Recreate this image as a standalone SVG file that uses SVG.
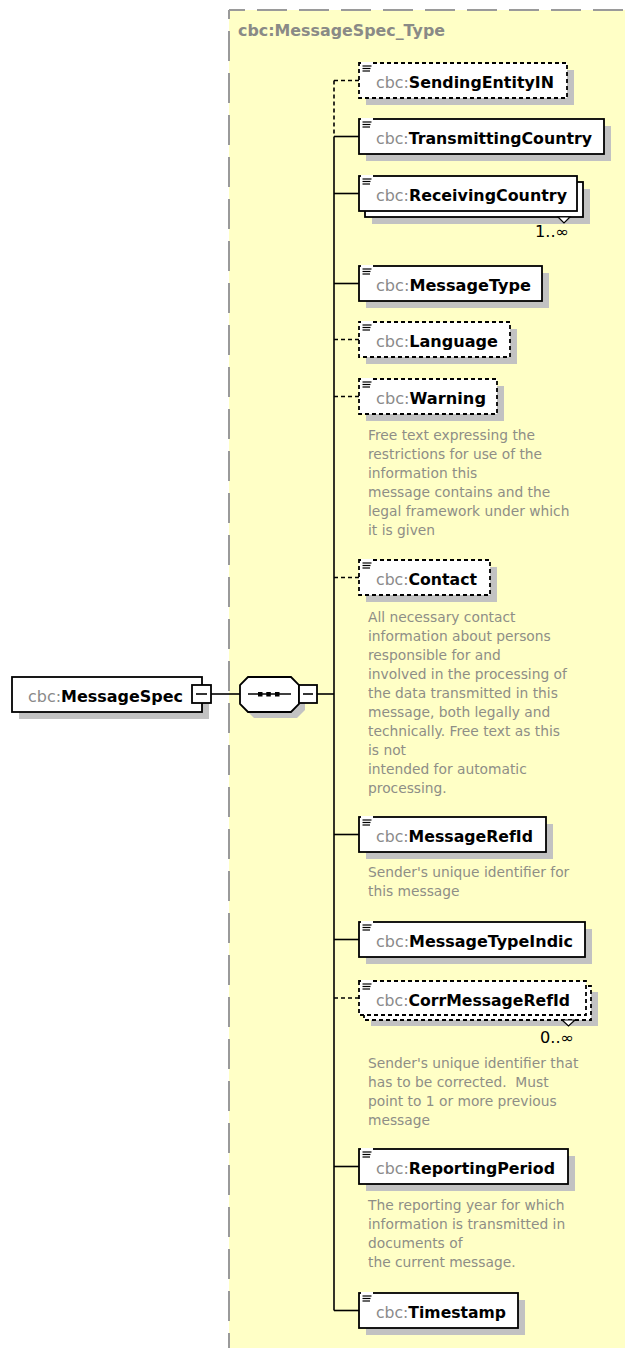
<svg xmlns="http://www.w3.org/2000/svg" xmlns:xlink="http://www.w3.org/1999/xlink" width="625" height="1348" viewBox="0 0 625 1348">
<style>
.panel{fill:#FFFFC6;stroke:none}
.pborder{stroke:#9a9a9a;stroke-width:2;stroke-dasharray:30 12;fill:none}
.title{font-family:"DejaVu Sans",sans-serif;font-size:15.7px;font-weight:bold;fill:#8a8a86}
.box{fill:#fff;stroke:#000;stroke-width:1.8}
.opt{stroke-dasharray:4 3}
.shadow{fill:#c2c2c2}
.lbl{font-family:"DejaVu Sans",sans-serif;font-size:15.7px}
.pre{fill:#8a8a8a;font-weight:normal}
.nm{fill:#000;font-weight:bold}
.ann{font-family:"DejaVu Sans",sans-serif;font-size:13.8px;fill:#8e8e86}
.occ{font-family:"DejaVu Sans",sans-serif;font-size:15px;fill:#000}
.conn{stroke:#000;stroke-width:1.6;fill:none}
.dash{stroke-dasharray:4 3}
.tri{fill:#fff;stroke:#000;stroke-width:1.2}
.ico line{stroke:#000;stroke-width:1.2}
</style>
<defs>
<g id="ico" class="ico">
<rect x="2" y="-1" width="12" height="10" fill="#fff"/>
<line x1="3.5" y1="3" x2="12.5" y2="3"/>
<line x1="3.5" y1="5.5" x2="11.5" y2="5.5"/>
<line x1="3.5" y1="8" x2="11" y2="8"/>
</g>
</defs>

<g id="panel">
<rect class="panel" x="229" y="10" width="400" height="1345"/>
<line class="pborder" x1="229" y1="10" x2="625" y2="10" stroke-dashoffset="14"/>
<line class="pborder" x1="229" y1="10" x2="229" y2="1348" stroke-dashoffset="21"/>
<text class="title" x="238" y="36" textLength="207" lengthAdjust="spacingAndGlyphs">cbc:MessageSpec_Type</text>
</g>

<g id="connectors">
<line class="conn" x1="211" y1="694" x2="240" y2="694"/>
<line class="conn" x1="317" y1="694" x2="334" y2="694"/>
<line class="conn dash" x1="334" y1="80.5" x2="334" y2="136.5"/>
<line class="conn" x1="334" y1="136.5" x2="334" y2="1310.5"/>
<line class="conn dash" x1="334" y1="80.5" x2="359" y2="80.5"/>
<line class="conn" x1="334" y1="136.5" x2="359" y2="136.5"/>
<line class="conn" x1="334" y1="193.5" x2="359" y2="193.5"/>
<line class="conn" x1="334" y1="283.5" x2="359" y2="283.5"/>
<line class="conn dash" x1="334" y1="339.5" x2="359" y2="339.5"/>
<line class="conn dash" x1="334" y1="396.5" x2="359" y2="396.5"/>
<line class="conn dash" x1="334" y1="577.5" x2="359" y2="577.5"/>
<line class="conn" x1="334" y1="834.5" x2="359" y2="834.5"/>
<line class="conn" x1="334" y1="939.5" x2="359" y2="939.5"/>
<line class="conn dash" x1="334" y1="998" x2="359" y2="998"/>
<line class="conn" x1="334" y1="1166.5" x2="359" y2="1166.5"/>
<line class="conn" x1="334" y1="1310.5" x2="359" y2="1310.5"/>
</g>

<g id="n-MessageSpec">
<rect class="shadow" x="19" y="684" width="190" height="35"/>
<rect class="box" x="12" y="677" width="190" height="35"/>
<text class="lbl" x="28" y="702" textLength="155" lengthAdjust="spacingAndGlyphs"><tspan class="pre">cbc:</tspan><tspan class="nm">MessageSpec</tspan></text>
<rect class="box" x="192" y="685" width="19" height="18" stroke-width="1.5"/>
<line class="conn" x1="196" y1="694" x2="207" y2="694" stroke-width="1.3"/>
</g>

<g id="n-sequence">
<polygon class="shadow" points="254,683 297,683 305,691 305,710 297,718 254,718 246,710 246,691"/>
<polygon class="box" points="248,677 291,677 299,685 299,704 291,712 248,712 240,704 240,685"/>
<line class="conn" x1="248" y1="694" x2="291" y2="694" stroke-width="1.4"/>
<rect x="258" y="692" width="4.5" height="4.5" fill="#000"/>
<rect x="266.3" y="692" width="4.5" height="4.5" fill="#000"/>
<rect x="275" y="692" width="4.5" height="4.5" fill="#000"/>
<rect class="box" x="299" y="685" width="18" height="18" stroke-width="1.5"/>
<line class="conn" x1="303" y1="694" x2="313" y2="694" stroke-width="1.3"/>
</g>

<g id="n-SendingEntityIN">
<rect class="shadow" x="366" y="70" width="208" height="35"/>
<rect class="box opt" x="359" y="63" width="208" height="35"/>
<use xlink:href="#ico" href="#ico" x="359" y="63"/>
<text class="lbl" x="376" y="88" textLength="178" lengthAdjust="spacingAndGlyphs"><tspan class="pre">cbc:</tspan><tspan class="nm">SendingEntityIN</tspan></text>
</g>

<g id="n-TransmittingCountry">
<rect class="shadow" x="366" y="126" width="245" height="35"/>
<rect class="box" x="359" y="119" width="245" height="35"/>
<use xlink:href="#ico" href="#ico" x="359" y="119"/>
<text class="lbl" x="376" y="144" textLength="216" lengthAdjust="spacingAndGlyphs"><tspan class="pre">cbc:</tspan><tspan class="nm">TransmittingCountry</tspan></text>
</g>

<g id="n-ReceivingCountry">
<rect class="shadow" x="372" y="189" width="218" height="35"/>
<rect class="box" x="365" y="182" width="218" height="35"/>
<rect class="box" x="359" y="176" width="218" height="35"/>
<use xlink:href="#ico" href="#ico" x="359" y="176"/>
<text class="lbl" x="376" y="201" textLength="191" lengthAdjust="spacingAndGlyphs"><tspan class="pre">cbc:</tspan><tspan class="nm">ReceivingCountry</tspan></text>
<polygon class="tri" points="558,217 564,223 570,217"/>
<text class="occ" x="535" y="237" textLength="34" lengthAdjust="spacingAndGlyphs">1..∞</text>
</g>

<g id="n-MessageType">
<rect class="shadow" x="366" y="273" width="183" height="35"/>
<rect class="box" x="359" y="266" width="183" height="35"/>
<use xlink:href="#ico" href="#ico" x="359" y="266"/>
<text class="lbl" x="376" y="291" textLength="155" lengthAdjust="spacingAndGlyphs"><tspan class="pre">cbc:</tspan><tspan class="nm">MessageType</tspan></text>
</g>

<g id="n-Language">
<rect class="shadow" x="366" y="329" width="151" height="35"/>
<rect class="box opt" x="359" y="322" width="151" height="35"/>
<use xlink:href="#ico" href="#ico" x="359" y="322"/>
<text class="lbl" x="376" y="347" textLength="122" lengthAdjust="spacingAndGlyphs"><tspan class="pre">cbc:</tspan><tspan class="nm">Language</tspan></text>
</g>

<g id="n-Warning">
<rect class="shadow" x="366" y="386" width="138" height="35"/>
<rect class="box opt" x="359" y="379" width="138" height="35"/>
<use xlink:href="#ico" href="#ico" x="359" y="379"/>
<text class="lbl" x="376" y="404" textLength="110" lengthAdjust="spacingAndGlyphs"><tspan class="pre">cbc:</tspan><tspan class="nm">Warning</tspan></text>
<text class="ann" x="368" y="440">Free text expressing the</text>
<text class="ann" x="368" y="459">restrictions for use of the</text>
<text class="ann" x="368" y="478">information this</text>
<text class="ann" x="368" y="497">message contains and the</text>
<text class="ann" x="368" y="516">legal framework under which</text>
<text class="ann" x="368" y="535">it is given</text>
</g>

<g id="n-Contact">
<rect class="shadow" x="366" y="567" width="131" height="35"/>
<rect class="box opt" x="359" y="560" width="131" height="35"/>
<use xlink:href="#ico" href="#ico" x="359" y="560"/>
<text class="lbl" x="376" y="585" textLength="101" lengthAdjust="spacingAndGlyphs"><tspan class="pre">cbc:</tspan><tspan class="nm">Contact</tspan></text>
<text class="ann" x="368" y="622">All necessary contact</text>
<text class="ann" x="368" y="641">information about persons</text>
<text class="ann" x="368" y="660">responsible for and</text>
<text class="ann" x="368" y="679">involved in the processing of</text>
<text class="ann" x="368" y="698">the data transmitted in this</text>
<text class="ann" x="368" y="717">message, both legally and</text>
<text class="ann" x="368" y="736">technically. Free text as this</text>
<text class="ann" x="368" y="755">is not</text>
<text class="ann" x="368" y="774">intended for automatic</text>
<text class="ann" x="368" y="793">processing.</text>
</g>

<g id="n-MessageRefId">
<rect class="shadow" x="366" y="824" width="187" height="35"/>
<rect class="box" x="359" y="817" width="187" height="35"/>
<use xlink:href="#ico" href="#ico" x="359" y="817"/>
<text class="lbl" x="376" y="842" textLength="157" lengthAdjust="spacingAndGlyphs"><tspan class="pre">cbc:</tspan><tspan class="nm">MessageRefId</tspan></text>
<text class="ann" x="368" y="877">Sender's unique identifier for</text>
<text class="ann" x="368" y="896">this message</text>
</g>

<g id="n-MessageTypeIndic">
<rect class="shadow" x="366" y="929" width="226" height="35"/>
<rect class="box" x="359" y="922" width="226" height="35"/>
<use xlink:href="#ico" href="#ico" x="359" y="922"/>
<text class="lbl" x="376" y="947" textLength="197" lengthAdjust="spacingAndGlyphs"><tspan class="pre">cbc:</tspan><tspan class="nm">MessageTypeIndic</tspan></text>
</g>

<g id="n-CorrMessageRefId">
<rect class="shadow" x="371" y="992" width="227" height="34"/>
<rect class="box opt" x="364" y="986" width="227" height="34"/>
<rect class="box opt" x="359" y="981" width="227" height="34"/>
<use xlink:href="#ico" href="#ico" x="359" y="981"/>
<text class="lbl" x="376" y="1006" textLength="194" lengthAdjust="spacingAndGlyphs"><tspan class="pre">cbc:</tspan><tspan class="nm">CorrMessageRefId</tspan></text>
<polygon class="tri" points="562,1020 568.5,1026 575,1020"/>
<text class="occ" x="540" y="1043" textLength="34" lengthAdjust="spacingAndGlyphs">0..∞</text>
<text class="ann" x="368" y="1068">Sender's unique identifier that</text>
<text class="ann" x="368" y="1087" xml:space="preserve">has to be corrected.  Must</text>
<text class="ann" x="368" y="1106">point to 1 or more previous</text>
<text class="ann" x="368" y="1125">message</text>
</g>

<g id="n-ReportingPeriod">
<rect class="shadow" x="366" y="1156" width="209" height="35"/>
<rect class="box" x="359" y="1149" width="209" height="35"/>
<use xlink:href="#ico" href="#ico" x="359" y="1149"/>
<text class="lbl" x="376" y="1174" textLength="179" lengthAdjust="spacingAndGlyphs"><tspan class="pre">cbc:</tspan><tspan class="nm">ReportingPeriod</tspan></text>
<text class="ann" x="368" y="1210">The reporting year for which</text>
<text class="ann" x="368" y="1229">information is transmitted in</text>
<text class="ann" x="368" y="1248">documents of</text>
<text class="ann" x="368" y="1267">the current message.</text>
</g>

<g id="n-Timestamp">
<rect class="shadow" x="366" y="1300" width="159" height="35"/>
<rect class="box" x="359" y="1293" width="159" height="35"/>
<use xlink:href="#ico" href="#ico" x="359" y="1293"/>
<text class="lbl" x="376" y="1318" textLength="130" lengthAdjust="spacingAndGlyphs"><tspan class="pre">cbc:</tspan><tspan class="nm">Timestamp</tspan></text>
</g>
</svg>
